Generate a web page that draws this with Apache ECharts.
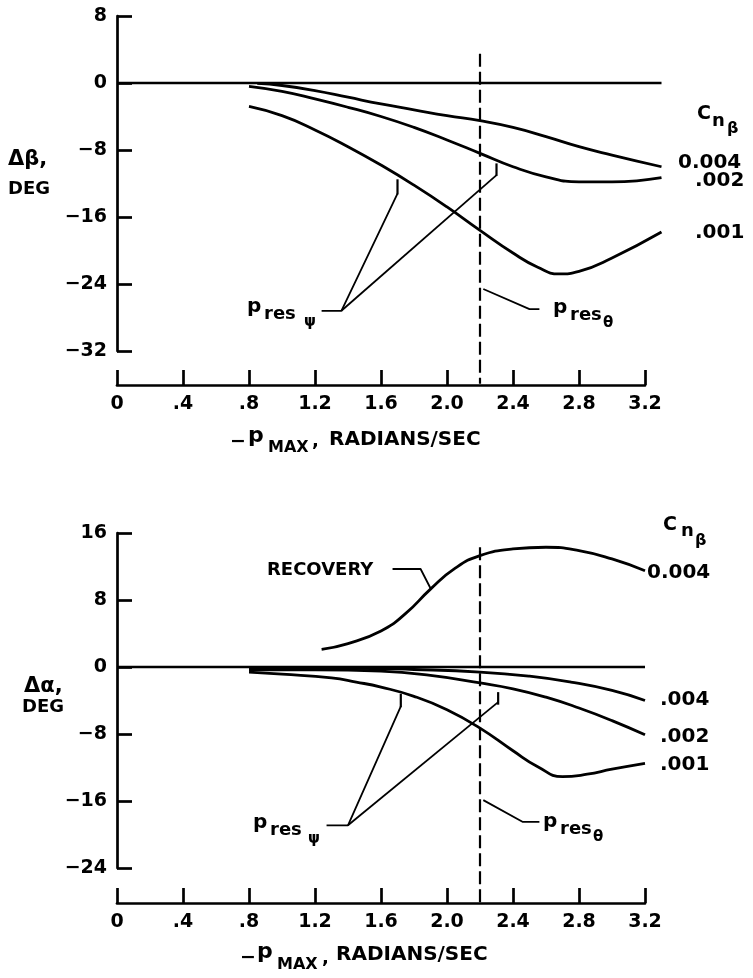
<!DOCTYPE html>
<html>
<head>
<meta charset="utf-8">
<script src="https://cdn.jsdelivr.net/npm/echarts@6/dist/echarts.min.js"></script>
<style>
  html, body { margin: 0; padding: 0; background: #fff; }
  #chart { width: 753px; height: 978px; }
</style>
</head>
<body>
<div id="chart"></div>
<script>
// ---- Upper panel: sideslip change, delta-beta (deg) vs -p_max (rad/sec) ----
const betaX004 = [0.85, 1.0, 1.2, 1.4, 1.6, 1.8, 2.0, 2.2, 2.4, 2.6, 2.8, 3.0, 3.3];
const betaY004 = [-0.05, -0.3, -0.9, -1.7, -2.5, -3.2, -3.9, -4.5, -5.3, -6.4, -7.6, -8.6, -10.0];
const betaX002 = [0.8, 1.0, 1.2, 1.4, 1.6, 1.8, 2.0, 2.2, 2.4, 2.6, 2.8, 3.0, 3.3];
const betaY002 = [-0.4, -1.0, -1.9, -2.9, -4.0, -5.3, -6.8, -8.4, -10.0, -11.2, -11.8, -11.8, -11.3];
const betaX001 = [0.8, 1.0, 1.2, 1.4, 1.6, 1.8, 2.0, 2.2, 2.4, 2.55, 2.68, 2.8, 3.0, 3.3];
const betaY001 = [-2.8, -3.9, -5.6, -7.6, -9.8, -12.2, -14.8, -17.6, -20.3, -22.0, -22.8, -22.5, -20.9, -17.8];

// ---- Lower panel: angle-of-attack change, delta-alpha (deg) ----
const recoveryX = [1.24, 1.4, 1.6, 1.75, 1.9, 2.05, 2.2, 2.4, 2.6, 2.8, 3.0, 3.2];
const recoveryY = [2.1, 2.8, 4.3, 6.4, 9.3, 11.8, 13.3, 14.1, 14.3, 13.9, 12.9, 11.5];
const alphaX004 = [0.8, 1.0, 1.4, 1.8, 2.2, 2.5, 2.75, 3.0, 3.2];
const alphaY004 = [-0.2, -0.15, -0.15, -0.3, -0.6, -1.1, -1.8, -2.8, -4.0];
const alphaX002 = [0.8, 1.2, 1.6, 1.9, 2.2, 2.4, 2.6, 2.8, 3.0, 3.2];
const alphaY002 = [-0.35, -0.35, -0.5, -1.0, -1.9, -2.6, -3.6, -4.9, -6.4, -8.1];
const alphaX001 = [0.8, 1.0, 1.3, 1.45, 1.6, 1.8, 2.0, 2.2, 2.4, 2.55, 2.7, 2.85, 3.0, 3.2];
const alphaY001 = [-0.6, -0.85, -1.3, -1.8, -2.4, -3.5, -5.1, -7.3, -10.0, -11.9, -13.1, -12.8, -12.2, -11.5];

// resonance rate p_res_theta (vertical dashed line) and p_res_psi marks
const pResTheta = 2.2;
const pResPsiTop = [1.7, 2.3];
const pResPsiBottom = [1.72, 2.31];

// axis ranges and tick spacing
const xTickStep = 0.4;
const betaRange = [-32, 8];
const alphaRange = [-24, 16];
const yTickStep = 8;

const FONT = '"DejaVu Sans", sans-serif';
const zip = (xs, ys) => xs.map((x, i) => [x, ys[i]]);

function curve(xs, ys, grid) {
  return {
    type: 'line', xAxisIndex: grid, yAxisIndex: grid,
    data: zip(xs, ys), smooth: 0.5, symbol: 'none', silent: true,
    lineStyle: { color: '#000', width: 2.8 }, z: 3
  };
}
function leader(points, grid, width, dash) {
  return {
    type: 'line', xAxisIndex: grid, yAxisIndex: grid,
    data: points, symbol: 'none', silent: true, clip: false,
    lineStyle: { color: '#000', width: width || 1.8, type: dash || 'solid' }, z: 4
  };
}

const yLabelFmt = v => (v < 0 ? '\u2212' + (-v) : String(v));
const xLabelFmt = v => {
  if (Math.abs(v) < 1e-9) return '0';
  let s = v.toFixed(1);
  if (s.startsWith('0.')) s = s.slice(1);
  return s;
};

const axisStroke = { color: '#000', width: 2.7 };
const labelStyle = { color: '#000', fontFamily: FONT, fontWeight: 'bold', fontSize: 19 };

function valueYAxis(grid, range) {
  return {
    type: 'value', gridIndex: grid, min: range[0], max: range[1], interval: yTickStep,
    axisLine: { show: true, onZero: false, lineStyle: axisStroke },
    axisTick: { show: true, inside: true, length: 15, lineStyle: axisStroke },
    axisLabel: Object.assign({ margin: 10, formatter: yLabelFmt }, labelStyle),
    splitLine: { show: false }
  };
}
function tickXAxis(grid) {
  return {
    type: 'value', gridIndex: grid, min: 0, max: 3.2, interval: xTickStep,
    axisLine: { show: true, onZero: false, lineStyle: axisStroke },
    axisTick: { show: true, inside: true, length: 15, lineStyle: axisStroke },
    axisLabel: Object.assign({ margin: 10, formatter: xLabelFmt }, labelStyle),
    splitLine: { show: false }
  };
}
const hiddenX = (grid, max) => ({ type: 'value', gridIndex: grid, min: 0, max: max, show: false });
const hiddenY = grid => ({ type: 'value', gridIndex: grid, min: 0, max: 1, show: false });

// text helper (pixel placement of annotation lettering)
function T(text, x, y, size, align) {
  return {
    type: 'text', x: x, y: y, silent: true, z: 10,
    style: {
      text: text, fill: '#000', font: 'bold ' + size + 'px ' + FONT,
      textAlign: align || 'left', textVerticalAlign: 'middle'
    }
  };
}

const graphics = [
  // upper panel lettering
  T('\u0394\u03b2,', 8, 160, 21), T('DEG', 8, 189, 18),
  T('\u2212', 230, 442, 19), T('p', 248, 436, 22), T('MAX', 268, 448, 16), T(',', 312, 441, 18),
  T('RADIANS/SEC', 329, 440, 20),
  T('C', 697, 114, 19), T('n', 712, 121, 18), T('\u03b2', 727, 129, 16),
  T('0.004', 678, 163, 20), T('.002', 695, 181, 20), T('.001', 695, 233, 20),
  T('p', 247, 307, 20), T('res', 264, 314, 18), T('\u03c8', 304, 322, 15),
  T('p', 553, 308, 20), T('res', 570, 315, 18), T('\u03b8', 603, 323, 15),
  // lower panel lettering
  T('\u0394\u03b1,', 24, 687, 21), T('DEG', 22, 707, 18),
  T('\u2212', 240, 958, 19), T('p', 257, 952, 22), T('MAX', 277, 965, 16), T(',', 322, 958, 18),
  T('RADIANS/SEC', 336, 955, 20),
  T('RECOVERY', 267, 570, 18),
  T('C', 663, 525, 19), T('n', 681, 531, 18), T('\u03b2', 695, 541, 16),
  T('0.004', 647, 573, 20), T('.004', 660, 700, 20), T('.002', 660, 737, 20), T('.001', 660, 765, 20),
  T('p', 253, 823, 20), T('res', 270, 830, 18), T('\u03c8', 308, 839, 15),
  T('p', 543, 822, 20), T('res', 560, 829, 18), T('\u03b8', 593, 837, 15)
];

const series = [
  // upper panel
  leader([[0, 0], [3.3, 0]], 0, 2.7),
  curve(betaX004, betaY004, 0),
  curve(betaX002, betaY002, 0),
  curve(betaX001, betaY001, 0),
  leader([[pResTheta, 3.5], [pResTheta, -35.9]], 0, 2.2, [13, 5]),
  leader([[1.24, -27.2], [1.36, -27.2], [pResPsiTop[0], -13.2]], 0),
  leader([[1.36, -27.2], [pResPsiTop[1], -11.0]], 0),
  leader([[pResPsiTop[0], -11.5], [pResPsiTop[0], -13.3]], 0, 2.2),
  leader([[pResPsiTop[1], -9.6], [pResPsiTop[1], -11.1]], 0, 2.2),
  leader([[2.22, -24.6], [2.50, -27.0], [2.56, -27.0]], 0),
  // lower panel
  leader([[0, 0], [3.2, 0]], 2, 2.7),
  curve(recoveryX, recoveryY, 2),
  curve(alphaX004, alphaY004, 2),
  curve(alphaX002, alphaY002, 2),
  curve(alphaX001, alphaY001, 2),
  leader([[pResTheta, 14.3], [pResTheta, -28.2]], 2, 2.2, [13, 5]),
  leader([[1.67, 11.7], [1.84, 11.7], [1.90, 9.4]], 2),
  leader([[1.27, -18.9], [1.40, -18.9], [pResPsiBottom[0], -4.7]], 2),
  leader([[1.40, -18.9], [pResPsiBottom[1], -4.2]], 2),
  leader([[pResPsiBottom[0], -3.2], [pResPsiBottom[0], -4.8]], 2, 2.2),
  leader([[pResPsiBottom[1], -3.0], [pResPsiBottom[1], -4.5]], 2, 2.2),
  leader([[2.22, -15.9], [2.46, -18.5], [2.56, -18.5]], 2)
];

const chart = echarts.init(document.getElementById('chart'), null, { renderer: 'canvas' });
chart.setOption({
  animation: false,
  backgroundColor: '#fff',
  grid: [
    { left: 117, top: 16, width: 544.5, height: 335, outerBoundsMode: 'none' },
    { left: 117, top: 370, width: 528, height: 15, outerBoundsMode: 'none' },
    { left: 117, top: 533, width: 528, height: 335, outerBoundsMode: 'none' },
    { left: 117, top: 888, width: 528, height: 15, outerBoundsMode: 'none' }
  ],
  xAxis: [hiddenX(0, 3.3), tickXAxis(1), hiddenX(2, 3.2), tickXAxis(3)],
  yAxis: [valueYAxis(0, betaRange), hiddenY(1), valueYAxis(2, alphaRange), hiddenY(3)],
  series: series,
  graphic: graphics
});
</script>
</body>
</html>
